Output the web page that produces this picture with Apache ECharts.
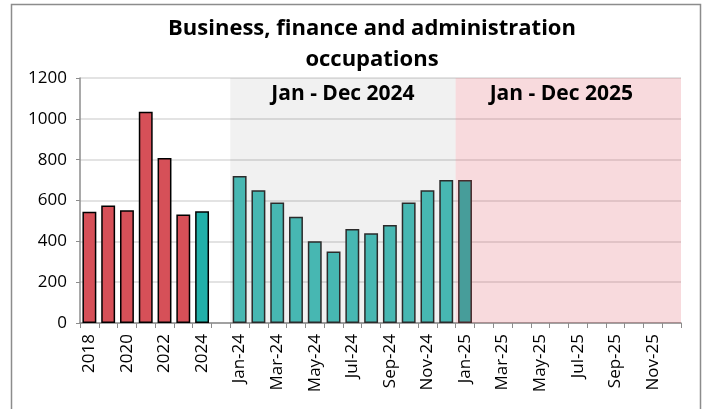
<!DOCTYPE html>
<html>
<head>
<meta charset="utf-8">
<script src="https://cdn.jsdelivr.net/npm/echarts@6/dist/echarts.min.js"></script>
<style>html,body{margin:0;padding:0;background:#fff;}#c{width:709px;height:409px;}</style>
</head>
<body>
<div id="c"></div>
<script>
const annualLabels = ['2018','2019','2020','2021','2022','2023','2024'];
const annualValues = [545, 575, 552, 1035, 808, 532, 547];
const months2024 = ['Jan-24','Feb-24','Mar-24','Apr-24','May-24','Jun-24','Jul-24','Aug-24','Sep-24','Oct-24','Nov-24','Dec-24'];
const values2024 = [720, 650, 590, 520, 400, 350, 460, 440, 480, 590, 650, 700];
const months2025 = ['Jan-25','Feb-25','Mar-25','Apr-25','May-25','Jun-25','Jul-25','Aug-25','Sep-25','Oct-25','Nov-25','Dec-25'];
const values2025 = [700];
const yTicks = [0, 200, 400, 600, 800, 1000, 1200];
const bandTitles = ['Jan - Dec 2024', 'Jan - Dec 2025'];

const categories = [...annualLabels, '', ...months2024, ...months2025];
const N = categories.length;
const pad = (arr, start) => categories.map((_, i) => (i >= start && i < start + arr.length) ? arr[i - start] : null);

const redData = pad(annualValues.slice(0, 6), 0);
const tealAnnual = pad(annualValues.slice(6), 6);
const m24 = pad(values2024, annualLabels.length + 1);
const m25 = pad(values2025, annualLabels.length + 1 + months2024.length);
const band1Start = annualLabels.length + 1;
const band2Start = band1Start + months2024.length;

const font = '"Open Sans", "Liberation Sans", sans-serif';
const barBase = { type: 'bar', xAxisIndex: 0, yAxisIndex: 0, barWidth: '74%', barGap: '-100%', z: 3 };

const chart = echarts.init(document.getElementById('c'), null, { renderer: 'canvas' });
chart.setOption({
  animation: false,
  backgroundColor: '#fff',
  textStyle: { fontFamily: font },
  title: {
    text: 'Business, finance and administration\noccupations',
    left: 367, top: 8, textAlign: 'center',
    textStyle: { fontFamily: font, fontWeight: 'bold', fontSize: 22, lineHeight: 31, color: '#000' }
  },
  graphic: [{
    type: 'rect', shape: { x: 11.5, y: 4.5, width: 689, height: 430 },
    style: { fill: 'none', stroke: '#8c8c8c', lineWidth: 1.5 }, z: 0, silent: true
  }],
  grid: { left: 80, right: 28, top: 78, bottom: 86 },
  xAxis: [{
    type: 'category', data: categories, boundaryGap: true,
    axisLine: { lineStyle: { color: '#8c8c8c', width: 1.5 } },
    axisTick: { show: true, interval: 0, length: 5, lineStyle: { color: '#8c8c8c' } },
    axisLabel: { interval: 1, rotate: 90, color: '#000', fontSize: 17, fontFamily: font, margin: 11 },
    splitLine: { show: false }
  }, {
    type: 'value', min: 0, max: N, show: false, position: 'top'
  }],
  yAxis: [{
    type: 'value', min: 0, max: 1200, interval: 200,
    axisLine: { show: true, lineStyle: { color: '#8c8c8c', width: 1.5 } },
    axisTick: { show: true, length: 4, lineStyle: { color: '#8c8c8c' } },
    axisLabel: { color: '#000', fontSize: 17, fontFamily: font, margin: 13,
      formatter: v => yTicks.includes(v) ? String(v) : '' },
    splitLine: { lineStyle: { color: 'rgba(0,0,0,0.15)', width: 1.5 } }
  }],
  series: [
    {
      type: 'line', xAxisIndex: 1, yAxisIndex: 0, data: [[0, 0]], symbol: 'none',
      lineStyle: { opacity: 0 }, silent: true, z: 1,
      markArea: {
        silent: true,
        label: { show: true, position: 'insideTop', distance: 6, color: '#000', fontWeight: 'bold', fontSize: 21, fontFamily: font },
        data: [
          [{ xAxis: band1Start, name: bandTitles[0], itemStyle: { color: 'rgba(0,0,0,0.055)' } }, { xAxis: band2Start }],
          [{ xAxis: band2Start, name: bandTitles[1], itemStyle: { color: 'rgba(222,70,85,0.2)' },
             label: { offset: [-7, 0] } }, { xAxis: N }]
        ]
      }
    },
    Object.assign({}, barBase, { name: 'annual', data: redData,
      itemStyle: { color: '#d65058', borderColor: '#000', borderWidth: 1.5 } }),
    Object.assign({}, barBase, { name: 'annual2024', data: tealAnnual,
      itemStyle: { color: '#21b0a9', borderColor: '#000', borderWidth: 1.5 } }),
    Object.assign({}, barBase, { name: 'm2024', data: m24,
      itemStyle: { color: '#47b7b2', borderColor: '#2b2b2b', borderWidth: 1.5 } }),
    Object.assign({}, barBase, { name: 'm2025', data: m25,
      itemStyle: { color: '#479d9a', borderColor: '#4a2a2c', borderWidth: 1.5 } })
  ]
});
</script>
</body>
</html>
